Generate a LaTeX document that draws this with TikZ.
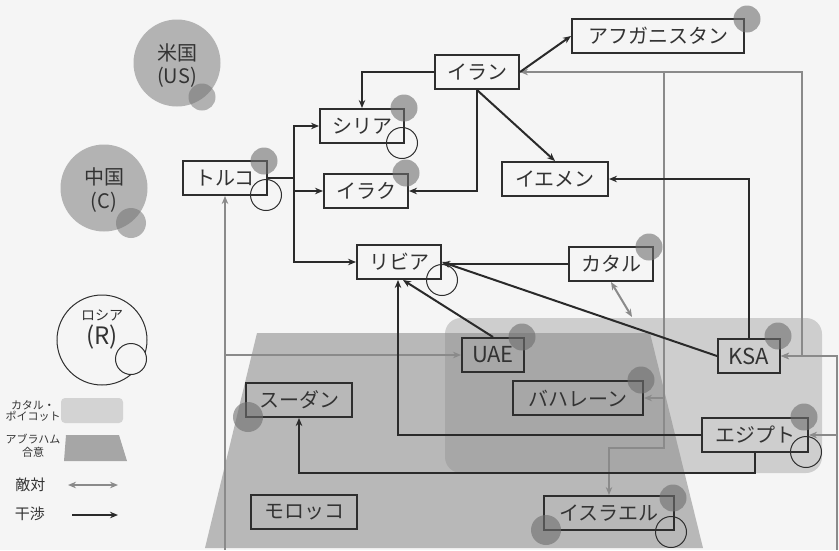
\documentclass[tikz,border=0pt]{standalone}
\usepackage{fontspec}
\setmainfont{Noto Sans CJK JP}
\usetikzlibrary{arrows.meta}
\definecolor{bgc}{HTML}{F5F5F5}
\definecolor{boxc}{HTML}{2E2E2E}
\definecolor{txtc}{HTML}{333333}
\definecolor{linec}{HTML}{2A2A2A}
\definecolor{grayl}{HTML}{8A8A8A}
\definecolor{bigc}{HTML}{B3B3B3}
\definecolor{smallc}{HTML}{6E6E6E}
\definecolor{abrc}{HTML}{B8B8B8}
\definecolor{abrlg}{HTML}{A6A6A6}
\definecolor{boyc}{HTML}{8B8B8B}
\definecolor{boylg}{HTML}{D3D3D3}
\tikzset{
  cty/.style={draw=boxc, line width=2pt, minimum height=34pt, inner sep=0pt,
    font=\fontsize{20}{22}\selectfont, text=txtc},
  latn/.style={font=\fontsize{22}{24}\selectfont},
  iline/.style={draw=linec, line width=2pt, -{Stealth[length=8pt,width=6.5pt]}},
  gline/.style={draw=grayl, line width=2pt},
  gtip/.style={-{Stealth[length=8pt,width=6.5pt]}},
  gtips/.style={{Stealth[length=8pt,width=6.5pt]}-{Stealth[length=8pt,width=6.5pt]}},
  gtipb/.style={{Stealth[length=8pt,width=6.5pt]}-},
  sgc/.style={circle, fill=smallc, fill opacity=.6, minimum size=27pt, inner sep=0pt},
  soc/.style={circle, draw=boxc, line width=1pt, minimum size=31pt, inner sep=0pt},
  bigcirc/.style={circle, fill=bigc, minimum size=87pt, inner sep=0pt},
  ctext/.style={text=txtc, inner sep=0pt, font=\fontsize{20}{22}\selectfont},
  lgtext/.style={text=txtc, inner sep=0pt, font=\fontsize{11}{12}\selectfont},
  lgbig/.style={text=txtc, inner sep=0pt, font=\fontsize{15}{16}\selectfont}
}
\begin{document}
\begin{tikzpicture}[x=1pt,y=-1pt]
\useasboundingbox (0,0) rectangle (839,550);
\fill[bgc] (0,0) rectangle (839,550);

% regions
\fill[abrc] (257,333) -- (650,333) -- (703,548) -- (205,548) -- cycle;
\fill[boyc, fill opacity=.36, rounded corners=16pt] (445,318) rectangle (822,473);

% legend
\node[lgtext] (lb1) at (33,405) {カタル・};
\node[lgtext] (lb2) at (33,416.5) {ポイコット};
\fill[boylg, rounded corners=4pt] (61,398) rectangle (123,423);
\node[lgtext] (la1) at (33,439) {アブラハム};
\node[lgtext] (la2) at (33,452) {合意};
\fill[abrlg] (66,435) -- (119,435) -- (127,461) -- (64,461) -- cycle;
\node[lgbig] (len) at (30.5,485) {敵対};
\node[lgbig] (lit) at (30,514) {干渉};
\coordinate (l1a) at (68,485);
\coordinate (l1b) at (118,485);
\coordinate (l2a) at (72,515);
\coordinate (l2b) at (118,515);
\draw[gline,gtips] (l1a) -- (l1b);
\draw[iline] (l2a) -- (l2b);

% big circles
\node[bigcirc] (us) at (177,63) {};
\node[ctext] (ust1) at (177,53) {米国};
\node[ctext] (ust2) at (177,77) {(US)};
\node[sgc, fill opacity=.5] (uss) at (202,97) {};
\node[bigcirc] (cn) at (104,188) {};
\node[ctext] (cnt1) at (104,177) {中国};
\node[ctext] (cnt2) at (104,202) {(C)};
\node[sgc, fill opacity=.5, minimum size=30pt] (cns) at (131,223) {};
\node[circle, draw=boxc, line width=1pt, minimum size=90pt, inner sep=0pt] (ru) at (102,340) {};
\node[text=txtc, inner sep=0pt, font=\fontsize{14}{16}\selectfont] (rut1) at (102,315) {ロシア};
\node[text=txtc, inner sep=0pt, font=\fontsize{24}{26}\selectfont] (rut2) at (102,337) {(R)};
\node[circle, fill=bgc, draw=boxc, line width=1pt, minimum size=31pt, inner sep=0pt] (rus) at (131,359) {};

% country boxes
\node[cty,minimum width=84pt] (torko) at (225,178) {トルコ};
\node[cty,minimum width=84pt] (syria) at (362,126) {シリア};
\node[cty,minimum width=84pt] (iraq) at (366,191) {イラク};
\node[cty,minimum width=84pt] (iran) at (477,72) {イラン};
\node[cty,minimum width=106pt] (yemen) at (555,179) {イエメン};
\node[cty,minimum width=172pt] (afghan) at (658,36) {アフガニスタン};
\node[cty,minimum width=84pt] (libya) at (399,262) {リビア};
\node[cty,minimum width=84pt] (qatar) at (611,264) {カタル};
\node[cty,latn,minimum width=62pt] (uae) at (493,355) {UAE};
\node[cty,minimum width=130pt] (bahrain) at (578,398) {バハレーン};
\node[cty,latn,minimum width=62pt] (ksa) at (749,356) {KSA};
\node[cty,minimum width=106pt] (egypt) at (755,435) {エジプト};
\node[cty,minimum width=106pt] (sudan) at (299,400) {スーダン};
\node[cty,minimum width=106pt] (morocco) at (304,512) {モロッコ};
\node[cty,minimum width=130pt] (israel) at (609,513) {イスラエル};

% helper coordinates
\coordinate (tk) at (294,178);
\coordinate (es) at (755,473);
\coordinate (bq) at (632,317);
\coordinate (bl) at (225,550);
\coordinate (tu) at (225,355);
\coordinate (br) at (837,550);
\coordinate (rk) at (837,356);
\coordinate (re) at (837,435);
\coordinate (ik) at (802,356);
\coordinate (ib) at (664,72);
\coordinate (ib2) at (664,398);
\coordinate (ib3) at (664,448);

% enmity (gray)
\draw[gline,gtips] (qatar.south) -- (bq);
\draw[gline,gtipb] (torko.south) -- (bl);
\draw[gline,gtip] (tu) -- (uae.west);
\draw[gline,gtip] (br) -- (rk) -- (ksa.east);
\draw[gline,gtip] (re) -- (egypt.east);
\draw[gline,gtips] (iran.east) -| (ik) -- (ksa.east);
\draw[gline,gtip] (ib) |- (bahrain.east);
\draw[gline,gtip] (ib2) -- (ib3) -| (israel.north);

% interference (black)
\draw[iline] (torko.east) -- (tk) |- (syria.west);
\draw[iline] (tk) |- (iraq.west);
\draw[iline] (tk) |- (libya.west);
\draw[iline] (iran.west) -| (syria.north);
\draw[iline] (iran.south) |- (iraq.east);
\draw[iline] (iran.south) -- (yemen.north);
\draw[iline] (iran.east) -- (afghan.west);
\draw[iline] (ksa.north) |- (yemen.east);
\draw[iline] (ksa.west) -- (libya.east);
\draw[iline] (qatar.west) -- (qatar.west -| libya.east);
\draw[iline] (uae.north) -- ([xshift=4pt]libya.south);
\draw[iline] (egypt.west) -| ([xshift=-1pt]libya.south);
\draw[iline] (egypt.south) -- (es) -| (sudan.south);

% small influence circles
\node[sgc] (c1) at (264,161) {};
\node[soc] (o1) at (266,195) {};
\node[sgc] (c2) at (404,108) {};
\node[soc] (o2) at (402,143) {};
\node[sgc] (c3) at (406,173) {};
\node[sgc] (c4) at (747,19) {};
\node[sgc] (c5) at (649,247) {};
\node[soc] (o3) at (442,280) {};
\node[sgc] (c6) at (522,337) {};
\node[sgc] (c7) at (641,380) {};
\node[sgc] (c8) at (778,336) {};
\node[sgc] (c9) at (804,417) {};
\node[soc] (o4) at (806,452) {};
\node[sgc, minimum size=30pt] (c10) at (248,417) {};
\node[sgc] (c11) at (673,498) {};
\node[soc] (o5) at (671,532) {};
\node[sgc, minimum size=30pt] (c12) at (546,530) {};
\end{tikzpicture}
\end{document}
